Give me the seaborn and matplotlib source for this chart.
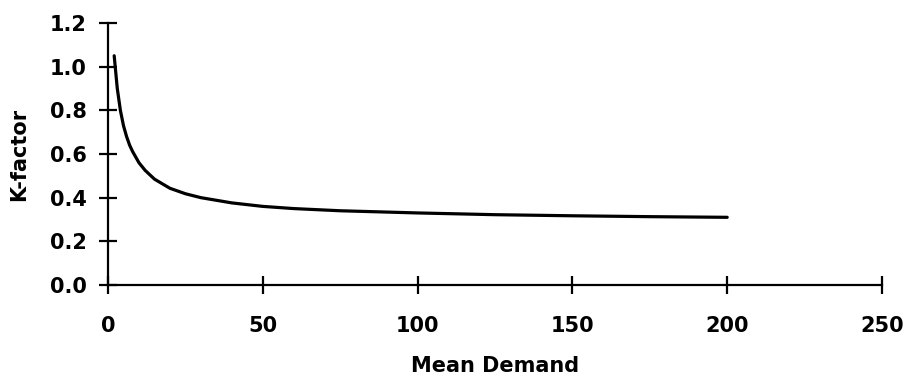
import numpy as np
import pandas as pd
import matplotlib
matplotlib.use("Agg")
import matplotlib.pyplot as plt
import seaborn as sns

# curve values
mean_demand = [2, 3, 4, 5, 6, 7, 8, 10, 12, 15, 20, 25, 30, 40, 50, 60, 75, 100, 125, 150, 175, 200]
k_factor = [1.05, 0.90, 0.80, 0.73, 0.68, 0.64, 0.61, 0.56, 0.525, 0.485, 0.443, 0.418, 0.40,
            0.376, 0.36, 0.35, 0.34, 0.33, 0.322, 0.317, 0.313, 0.31]
x_ticks = [0, 50, 100, 150, 200, 250]
y_ticks = [0.0, 0.2, 0.4, 0.6, 0.8, 1.0, 1.2]

sns.set_style("white")
plt.rcParams['font.family'] = ['DejaVu Sans']
plt.rcParams['font.weight'] = 'bold'
plt.rcParams['text.color'] = 'black'
plt.rcParams['axes.labelcolor'] = 'black'

df = pd.DataFrame({"Mean Demand": mean_demand, "K-factor": k_factor})

fig = plt.figure(figsize=(9.06, 3.81), dpi=100)
ax = fig.add_axes([0.1192, 0.252, 0.8543, 0.6876])

sns.lineplot(data=df, x="Mean Demand", y="K-factor", color="black", linewidth=2.3, ax=ax)

ax.set_xlim(0, 250)
ax.set_ylim(0, 1.2)
ax.set_xticks(x_ticks)
ax.set_yticks(y_ticks)
ax.set_xticklabels([str(t) for t in x_ticks])
ax.set_yticklabels([f"{t:.1f}" for t in y_ticks])

for side in ["top", "right"]:
    ax.spines[side].set_visible(False)
for side in ["left", "bottom"]:
    ax.spines[side].set_linewidth(1.6)
    ax.spines[side].set_color("black")

ax.tick_params(axis="both", direction="inout", length=13, width=1.6, color="black",
               labelsize=15, labelcolor="black", bottom=True, left=True)
ax.tick_params(axis="x", pad=16)
ax.tick_params(axis="y", pad=9)

ax.set_xlabel("Mean Demand", fontsize=15, fontweight="bold", labelpad=14)
ax.set_ylabel("K-factor", fontsize=15, fontweight="bold", labelpad=15)

fig.savefig("out.png", dpi=100)
